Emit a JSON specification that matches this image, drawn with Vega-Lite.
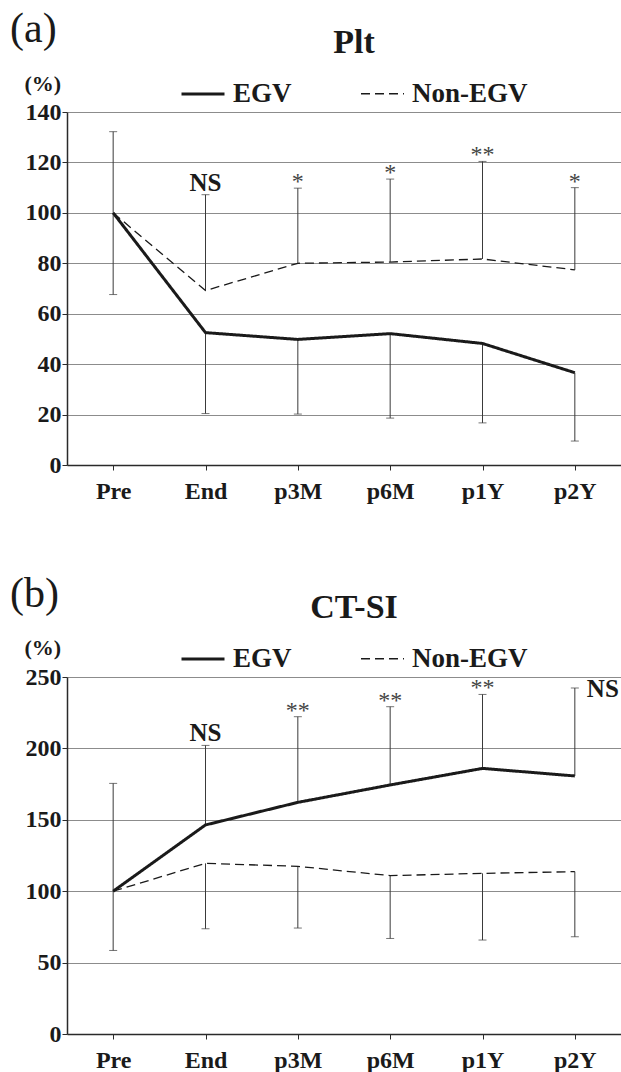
{
  "$schema": "https://vega.github.io/schema/vega-lite/v6.json",
  "padding": {"left": 0, "right": 0, "top": 8, "bottom": 0},
  "config": {
    "font": "Liberation Serif",
    "view": {"stroke": null},
    "axis": {
      "labelFont": "Liberation Serif",
      "labelFontWeight": "bold",
      "labelColor": "#1a1a1a",
      "domainColor": "#2a2a2a",
      "domainWidth": 1.5,
      "tickColor": "#2a2a2a",
      "tickSize": 5,
      "gridColor": "#8c8c8c",
      "gridWidth": 1
    },
    "legend": {
      "orient": "none",
      "legendX": 113,
      "legendY": -86,
      "direction": "horizontal",
      "titleFont": "Liberation Serif",
      "titleFontSize": 34,
      "titleFontWeight": "bold",
      "titleColor": "#1a1a1a",
      "titleAnchor": "middle",
      "titlePadding": 11,
      "labelFont": "Liberation Serif",
      "labelFontSize": 27,
      "labelFontWeight": "bold",
      "labelColor": "#1a1a1a",
      "labelOffset": 7,
      "columnPadding": 66,
      "symbolType": "stroke",
      "symbolSize": 1849,
      "symbolStrokeWidth": 1.3,
      "symbolStrokeColor": "#1a1a1a"
    },
    "title": {
      "font": "Liberation Serif",
      "fontSize": 42,
      "fontWeight": "normal",
      "color": "#1a1a1a",
      "anchor": "start",
      "frame": "group",
      "dx": -57,
      "offset": -25
    }
  },
  "datasets": {
    "plt": [
      {"time": "Pre", "group": "EGV", "value": 100, "err": 67.6, "sig": ""},
      {"time": "End", "group": "EGV", "value": 52.5, "err": 20.4, "sig": ""},
      {"time": "p3M", "group": "EGV", "value": 49.8, "err": 20.2, "sig": ""},
      {"time": "p6M", "group": "EGV", "value": 52.1, "err": 18.6, "sig": ""},
      {"time": "p1Y", "group": "EGV", "value": 48.2, "err": 16.7, "sig": ""},
      {"time": "p2Y", "group": "EGV", "value": 36.6, "err": 9.5, "sig": ""},
      {"time": "Pre", "group": "Non-EGV", "value": 100, "err": 132.2, "sig": ""},
      {"time": "End", "group": "Non-EGV", "value": 69.2, "err": 107.2, "sig": "NS"},
      {"time": "p3M", "group": "Non-EGV", "value": 80.0, "err": 109.8, "sig": "*"},
      {"time": "p6M", "group": "Non-EGV", "value": 80.5, "err": 113.4, "sig": "*"},
      {"time": "p1Y", "group": "Non-EGV", "value": 81.7, "err": 120.4, "sig": "**"},
      {"time": "p2Y", "group": "Non-EGV", "value": 77.4, "err": 110.0, "sig": "*"}
    ],
    "ctsi": [
      {"time": "Pre", "group": "EGV", "value": 100, "err": 175.5, "sig": ""},
      {"time": "End", "group": "EGV", "value": 146.4, "err": 202.1, "sig": "NS"},
      {"time": "p3M", "group": "EGV", "value": 162.2, "err": 222.2, "sig": "**"},
      {"time": "p6M", "group": "EGV", "value": 174.4, "err": 229.2, "sig": "**"},
      {"time": "p1Y", "group": "EGV", "value": 186.0, "err": 237.8, "sig": "**"},
      {"time": "p2Y", "group": "EGV", "value": 180.7, "err": 242.3, "sig": "NS"},
      {"time": "Pre", "group": "Non-EGV", "value": 100, "err": 58.5, "sig": ""},
      {"time": "End", "group": "Non-EGV", "value": 119.5, "err": 73.7, "sig": ""},
      {"time": "p3M", "group": "Non-EGV", "value": 117.4, "err": 74.2, "sig": ""},
      {"time": "p6M", "group": "Non-EGV", "value": 110.9, "err": 66.9, "sig": ""},
      {"time": "p1Y", "group": "Non-EGV", "value": 112.5, "err": 65.8, "sig": ""},
      {"time": "p2Y", "group": "Non-EGV", "value": 113.7, "err": 68.1, "sig": ""}
    ]
  },
  "resolve": {
    "scale": {"y": "independent", "strokeDash": "independent", "strokeWidth": "independent"},
    "legend": {"strokeDash": "independent"}
  },
  "spacing": 70,
  "vconcat": [
    {
      "title": {"text": "(a)"},
      "width": 554,
      "height": 353,
      "data": {"name": "plt"},
      "encoding": {
        "x": {
          "field": "time", "type": "ordinal",
          "scale": {"type": "point", "domain": ["Pre", "End", "p3M", "p6M", "p1Y", "p2Y"], "padding": 0.5},
          "axis": {"title": null, "labelAngle": 0, "labelFontSize": 24, "labelPadding": 9, "grid": false}
        }
      },
      "layer": [
        {
          "mark": {"type": "rule", "color": "#3a3a3a", "strokeWidth": 1},
          "encoding": {
            "y": {
              "field": "value", "type": "quantitative",
              "scale": {"domain": [0, 140], "nice": false, "zero": true},
              "axis": {
                "title": "(%)", "titleAngle": 0, "titleAlign": "left", "titleBaseline": "middle",
                "titleX": -43, "titleY": -29, "titleFont": "Liberation Serif", "titleFontSize": 22,
                "titleFontWeight": "bold", "titleColor": "#1a1a1a",
                "values": [0, 20, 40, 60, 80, 100, 120, 140],
                "labelFontSize": 24, "labelPadding": 1, "minExtent": 67, "maxExtent": 67, "grid": true
              }
            },
            "y2": {"field": "err"}
          }
        },
        {
          "mark": {"type": "tick", "orient": "horizontal", "color": "#3a3a3a", "size": 8, "thickness": 1},
          "encoding": {"y": {"field": "err", "type": "quantitative"}}
        },
        {
          "mark": {"type": "line", "color": "#1a1a1a"},
          "encoding": {
            "y": {"field": "value", "type": "quantitative"},
            "strokeDash": {
              "field": "group", "type": "nominal",
              "scale": {"domain": ["EGV", "Non-EGV"], "range": [[1, 0], [9, 5]]},
              "legend": {
                "title": "Plt",
                "encode": {"symbols": {"update": {"strokeDash": {"signal": "datum.value === 'Non-EGV' ? [4, 3] : [1, 0]"}}}}
              }
            },
            "strokeWidth": {
              "field": "group", "type": "nominal",
              "scale": {"domain": ["EGV", "Non-EGV"], "range": [3, 1.3]},
              "legend": null
            }
          }
        },
        {
          "transform": [{"filter": "datum.sig === 'NS'"}],
          "mark": {"type": "text", "baseline": "alphabetic", "dy": -4, "fontSize": 25, "fontWeight": "bold", "color": "#1a1a1a"},
          "encoding": {"y": {"field": "err", "type": "quantitative"}, "text": {"field": "sig"}}
        },
        {
          "transform": [{"filter": "indexof(datum.sig, '*') >= 0"}],
          "mark": {"type": "text", "baseline": "alphabetic", "dy": 1, "fontSize": 24, "fontWeight": "normal", "color": "#444444"},
          "encoding": {"y": {"field": "err", "type": "quantitative"}, "text": {"field": "sig"}}
        }
      ]
    },
    {
      "title": {"text": "(b)"},
      "width": 554,
      "height": 357,
      "data": {"name": "ctsi"},
      "encoding": {
        "x": {
          "field": "time", "type": "ordinal",
          "scale": {"type": "point", "domain": ["Pre", "End", "p3M", "p6M", "p1Y", "p2Y"], "padding": 0.5},
          "axis": {"title": null, "labelAngle": 0, "labelFontSize": 24, "labelPadding": 9, "grid": false}
        }
      },
      "layer": [
        {
          "mark": {"type": "rule", "color": "#3a3a3a", "strokeWidth": 1},
          "encoding": {
            "y": {
              "field": "value", "type": "quantitative",
              "scale": {"domain": [0, 250], "nice": false, "zero": true},
              "axis": {
                "title": "(%)", "titleAngle": 0, "titleAlign": "left", "titleBaseline": "middle",
                "titleX": -43, "titleY": -30, "titleFont": "Liberation Serif", "titleFontSize": 22,
                "titleFontWeight": "bold", "titleColor": "#1a1a1a",
                "values": [0, 50, 100, 150, 200, 250],
                "labelFontSize": 24, "labelPadding": 1, "minExtent": 67, "maxExtent": 67, "grid": true
              }
            },
            "y2": {"field": "err"}
          }
        },
        {
          "mark": {"type": "tick", "orient": "horizontal", "color": "#3a3a3a", "size": 8, "thickness": 1},
          "encoding": {"y": {"field": "err", "type": "quantitative"}}
        },
        {
          "mark": {"type": "line", "color": "#1a1a1a"},
          "encoding": {
            "y": {"field": "value", "type": "quantitative"},
            "strokeDash": {
              "field": "group", "type": "nominal",
              "scale": {"domain": ["EGV", "Non-EGV"], "range": [[1, 0], [9, 5]]},
              "legend": {
                "title": "CT-SI",
                "encode": {"symbols": {"update": {"strokeDash": {"signal": "datum.value === 'Non-EGV' ? [4, 3] : [1, 0]"}}}}
              }
            },
            "strokeWidth": {
              "field": "group", "type": "nominal",
              "scale": {"domain": ["EGV", "Non-EGV"], "range": [3, 1.3]},
              "legend": null
            }
          }
        },
        {
          "transform": [{"filter": "datum.sig === 'NS' && datum.time !== 'p2Y'"}],
          "mark": {"type": "text", "baseline": "alphabetic", "dy": -4, "fontSize": 25, "fontWeight": "bold", "color": "#1a1a1a"},
          "encoding": {"y": {"field": "err", "type": "quantitative"}, "text": {"field": "sig"}}
        },
        {
          "transform": [{"filter": "datum.sig === 'NS' && datum.time === 'p2Y'"}],
          "mark": {"type": "text", "align": "left", "baseline": "middle", "dx": 12, "dy": 1, "fontSize": 25, "fontWeight": "bold", "color": "#1a1a1a"},
          "encoding": {"y": {"field": "err", "type": "quantitative"}, "text": {"field": "sig"}}
        },
        {
          "transform": [{"filter": "indexof(datum.sig, '*') >= 0"}],
          "mark": {"type": "text", "baseline": "alphabetic", "dy": 1, "fontSize": 24, "fontWeight": "normal", "color": "#444444"},
          "encoding": {"y": {"field": "err", "type": "quantitative"}, "text": {"field": "sig"}}
        }
      ]
    }
  ]
}
